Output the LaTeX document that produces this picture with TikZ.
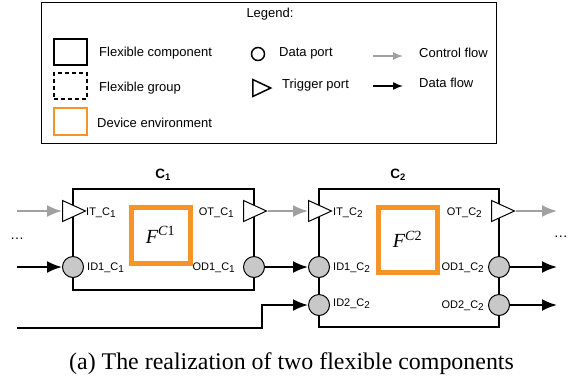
\documentclass[tikz,border=0pt]{standalone}
\usepackage{fontspec}
\setmainfont{Liberation Sans}
\newfontfamily\capfont{Liberation Serif}
\usetikzlibrary{arrows.meta,shapes.geometric}
\definecolor{envorange}{RGB}{247,148,40}
\definecolor{portgray}{RGB}{200,200,200}
\definecolor{ctrlgray}{RGB}{160,160,160}
\newcommand{\psub}[1]{\raisebox{-0.3ex}{\fontsize{10}{12}\selectfont #1}}
\tikzset{
    comp/.style={
        draw=black,line width=2pt,inner sep=0pt
    },
    env/.style={
        draw=envorange,line width=5pt,inner sep=0pt
    },
    dport/.style={
        circle,draw=black,line width=1pt,fill=portgray,
        minimum size=21pt,inner sep=0pt
    },
    tport/.style={
        isosceles triangle,isosceles triangle stretches,anchor=west,
        draw=black,line width=1pt,fill=white,
        minimum width=21pt,minimum height=23pt,inner sep=0pt
    },
    ctrl/.style={
        -{Latex[length=15pt,width=12pt]},line width=2pt,draw=ctrlgray
    },
    data/.style={
        -{Latex[length=15pt,width=12pt]},line width=2pt,draw=black
    },
    plabel/.style={
        font=\fontsize{11}{13}\selectfont,inner sep=0pt
    },
    lgtext/.style={
        anchor=west,font=\fontsize{13}{15}\selectfont,inner sep=0pt
    }
}

\begin{document}
\begin{tikzpicture}[x=1pt,y=-1pt]

\useasboundingbox (0,0) rectangle (569,384);

% legend
\node[draw=black,line width=1pt,minimum width=455pt,minimum height=141pt,inner sep=0pt]
(legend) at (268.5,72.5) {};
\node[font=\fontsize{13}{15}\selectfont] (lgtitle) at (270,14) {Legend:};

\node[draw=black,line width=2pt,minimum width=33pt,minimum height=26pt,inner sep=0pt]
(lgcomp) at (70.5,52) {};
\node[lgtext] (lgcompt) at (99,53) {Flexible component};
\node[draw=black,line width=1.5pt,dash pattern=on 4pt off 3pt,
minimum width=33pt,minimum height=26pt,inner sep=0pt]
(lggroup) at (70.5,86) {};
\node[lgtext] (lggroupt) at (99,88) {Flexible group};
\node[draw=envorange,line width=1.5pt,minimum width=33pt,minimum height=27pt,inner sep=0pt]
(lgenv) at (70.5,121.5) {};
\node[lgtext] (lgenvt) at (97,123) {Device environment};

\node[circle,draw=black,line width=1.5pt,minimum size=13pt,inner sep=0pt]
(lgdport) at (258,54) {};
\node[lgtext] (lgdportt) at (279,53) {Data port};
\node[isosceles triangle,isosceles triangle stretches,anchor=west,draw=black,line width=1.5pt,
minimum width=17pt,minimum height=18pt,inner sep=0pt]
(lgtport) at (252,88) {};
\node[lgtext] (lgtportt) at (282,85) {Trigger port};

\coordinate (lgca) at (373,56);
\coordinate (lgcb) at (403,56);
\draw[ctrl,line width=1.5pt,-{Latex[length=10pt,width=8pt]}](lgca)--(lgcb);
\node[lgtext] (lgctrlt) at (419,53) {Control flow};
\coordinate (lgda) at (373,86);
\coordinate (lgdb) at (403,86);
\draw[data,line width=1.5pt,-{Latex[length=10pt,width=8pt]}](lgda)--(lgdb);
\node[lgtext] (lgdatat) at (419,83) {Data flow};

% components
\node[comp,minimum width=181pt,minimum height=101pt] (c1) at (163.5,239.5) {};
\node[comp,minimum width=180pt,minimum height=138pt] (c2) at (409,258) {};
\node[font=\fontsize{13.5}{15}\selectfont\bfseries] (c1t) at (163,175) {C\textsubscript{1}};
\node[font=\fontsize{13.5}{15}\selectfont\bfseries] (c2t) at (398,175) {C\textsubscript{2}};

\node[env,minimum width=59pt,minimum height=56pt] (f1) at (160.5,235)
{\capfont\fontsize{20}{22}\selectfont\itshape F\textsuperscript{C\upshape 1}};
\node[env,minimum width=59pt,minimum height=65pt] (f2) at (407.5,239.5)
{\capfont\fontsize{20}{22}\selectfont\itshape F\textsuperscript{C\upshape 2}};

% ports
\node[tport] (itc1) at (62,211) {};
\node[tport] (otc1) at (243,211) {};
\node[dport] (id1c1) at (73,267) {};
\node[dport] (od1c1) at (254,267) {};
\node[tport] (itc2) at (308,211) {};
\node[tport] (otc2) at (491,211) {};
\node[dport] (id1c2) at (319,267) {};
\node[dport] (id2c2) at (319,305) {};
\node[dport] (od1c2) at (499,267) {};
\node[dport] (od2c2) at (499,305) {};

\node[plabel,anchor=west] (itc1t) at (86,213) {IT\_C\psub{1}};
\node[plabel,anchor=west] (id1c1t) at (87,268) {ID1\_C\psub{1}};
\node[plabel,anchor=east] (otc1t) at (234,213) {OT\_C\psub{1}};
\node[plabel,anchor=east] (od1c1t) at (235,268) {OD1\_C\psub{1}};
\node[plabel,anchor=west] (itc2t) at (333,213) {IT\_C\psub{2}};
\node[plabel,anchor=west] (id1c2t) at (333,268) {ID1\_C\psub{2}};
\node[plabel,anchor=west] (id2c2t) at (333,304) {ID2\_C\psub{2}};
\node[plabel,anchor=east] (otc2t) at (482,213) {OT\_C\psub{2}};
\node[plabel,anchor=east] (od1c2t) at (484,268) {OD1\_C\psub{2}};
\node[plabel,anchor=east] (od2c2t) at (484,306) {OD2\_C\psub{2}};

\node[font=\fontsize{14}{16}\selectfont] (dotsl) at (17,239) {\dots};
\node[font=\fontsize{14}{16}\selectfont,anchor=east,inner sep=0pt] (dotsr) at (568,237) {\dots};

% flows
\coordinate (inctrl) at (17,211);
\coordinate (indata) at (17,267);
\coordinate (inlow) at (17,328);
\coordinate (bend) at (262,328);
\coordinate (outctrl) at (557,211);
\coordinate (outd1) at (557,267);
\coordinate (outd2) at (557,305);

\draw[ctrl](inctrl)--(itc1.west);
\draw[data](indata)--(id1c1);
\draw[ctrl](otc1.apex)--(itc2.west);
\draw[data](od1c1)--(id1c2);
\draw[data](inlow)--(bend)|-(id2c2);
\draw[ctrl](otc2.apex)--(outctrl);
\draw[data](od1c2)--(outd1);
\draw[data](od2c2)--(outd2);

\node[font=\capfont\fontsize{23.9}{28}\selectfont] (caption) at (291.5,364)
{(a) The realization of two flexible components};

\end{tikzpicture}
\end{document}
